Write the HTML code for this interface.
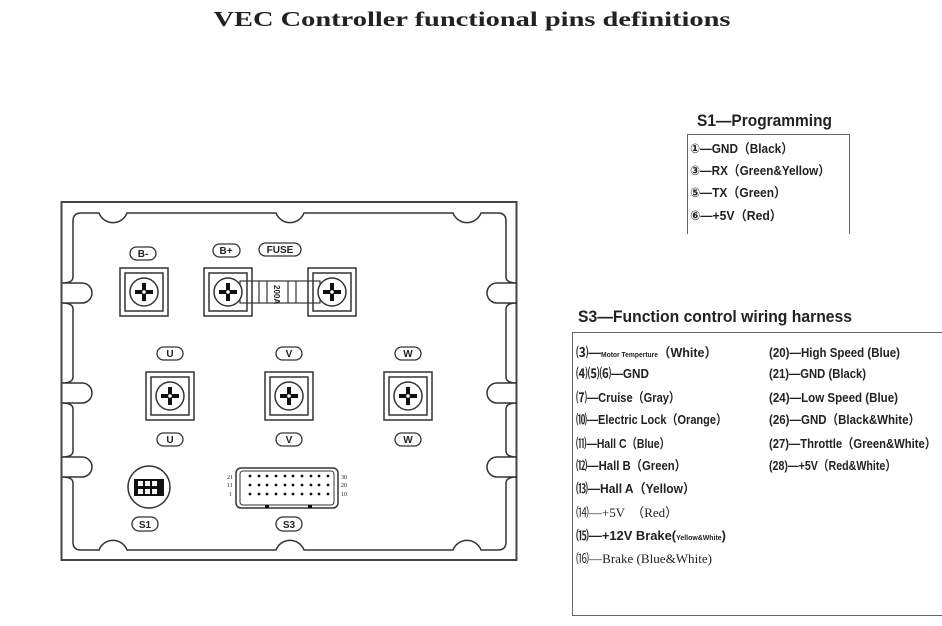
<!DOCTYPE html>
<html><head><meta charset="utf-8"><style>
html,body{margin:0;padding:0;background:#fff}
svg{display:block}
.b{font-family:"Liberation Sans","DejaVu Sans","Noto Sans CJK SC",sans-serif;font-weight:bold;fill:#222}
.s{font-family:"Liberation Serif","DejaVu Serif","Noto Sans CJK SC",serif;fill:#222}
.lb{font-family:"Liberation Sans",sans-serif;font-weight:bold;font-size:10px;fill:#222}
</style></head><body>
<svg width="942" height="626" viewBox="0 0 942 626" xmlns="http://www.w3.org/2000/svg">
<defs>
<g id="t">
<rect x="0" y="0" width="48" height="48" fill="none" stroke="#333" stroke-width="1.5"/>
<rect x="5" y="5" width="38" height="38" fill="none" stroke="#333" stroke-width="1.5"/>
<circle cx="24" cy="24" r="14" fill="#fff" stroke="#333" stroke-width="1.5"/>
<rect x="15" y="22" width="18" height="4" fill="#111"/>
<rect x="22" y="15" width="4" height="18" fill="#111"/>
<circle cx="24" cy="24" r="1.8" fill="#fff"/>
</g>
</defs>
<text x="472" y="26" text-anchor="middle" class="s" style="font-weight:bold;font-size:21px" textLength="517" lengthAdjust="spacingAndGlyphs">VEC Controller functional pins definitions</text>

<rect x="61.5" y="202" width="455" height="358" fill="none" stroke="#444" stroke-width="2"/>
<path fill="none" stroke="#333" stroke-width="1.5" d="M81,213 L99,213 A15 15 0 0 0 127,213 L276,213 A15 15 0 0 0 304,213 L453,213 A15 15 0 0 0 481,213 L498,213 Q506,213 506,221
L506,277 Q506,283 517,283 L497,283 A10 10 0 0 0 497,303 L517,303 Q506,303 506,309
L506,377 Q506,383 517,383 L497,383 A10 10 0 0 0 497,403 L517,403 Q506,403 506,409
L506,451 Q506,457 517,457 L497,457 A10 10 0 0 0 497,477 L517,477 Q506,477 506,483
L506,542 Q506,550 498,550 L481,550 A15 15 0 0 0 453,550 L304,550 A15 15 0 0 0 276,550 L127,550 A15 15 0 0 0 99,550 L81,550 Q73,550 73,542
L73,483 Q73,477 62,477 L82,477 A10 10 0 0 0 82,457 L62,457 Q73,457 73,451
L73,409 Q73,403 62,403 L82,403 A10 10 0 0 0 82,383 L62,383 Q73,383 73,377
L73,309 Q73,303 62,303 L82,303 A10 10 0 0 0 82,283 L62,283 Q73,283 73,277
L73,221 Q73,213 81,213 Z"/>

<g stroke="#333" stroke-width="1.2" fill="#fff">
<rect x="240" y="281" width="80" height="22"/>
<line x1="259" y1="281" x2="259" y2="303"/><line x1="267" y1="281" x2="267" y2="303"/>
<line x1="288" y1="281" x2="288" y2="303"/><line x1="296" y1="281" x2="296" y2="303"/>
</g>
<text transform="translate(274,285) rotate(90)" class="lb" style="font-size:8px">200A</text>
<use href="#t" x="120" y="268"/>
<use href="#t" x="204" y="268"/>
<use href="#t" x="308" y="268"/>
<use href="#t" x="146" y="372"/>
<use href="#t" x="265" y="372"/>
<use href="#t" x="384" y="372"/>

<g fill="#fff" stroke="#333" stroke-width="1.3">
<rect x="130" y="247" width="26" height="13" rx="6.5"/>
<rect x="213" y="244" width="27" height="13" rx="6.5"/>
<rect x="259" y="243" width="42" height="13" rx="6.5"/>
<rect x="157" y="347" width="26" height="13" rx="6.5"/>
<rect x="276" y="347" width="26" height="13" rx="6.5"/>
<rect x="395" y="347" width="26" height="13" rx="6.5"/>
<rect x="157" y="433" width="26" height="13" rx="6.5"/>
<rect x="276" y="433" width="26" height="13" rx="6.5"/>
<rect x="395" y="433" width="26" height="13" rx="6.5"/>
<rect x="132" y="517" width="26" height="14" rx="7"/>
<rect x="276" y="517" width="26" height="14" rx="7"/>
</g>
<g class="lb" text-anchor="middle">
<text x="143" y="257">B-</text><text x="226" y="254">B+</text><text x="280" y="253">FUSE</text>
<text x="170" y="357">U</text><text x="289" y="357">V</text><text x="408" y="357">W</text>
<text x="170" y="443">U</text><text x="289" y="443">V</text><text x="408" y="443">W</text>
<text x="145" y="528">S1</text><text x="289" y="528">S3</text>
</g>

<circle cx="149" cy="487" r="21" fill="none" stroke="#333" stroke-width="1.5"/>
<rect x="134" y="479" width="30" height="17" fill="#111"/>
<g fill="#fff"><rect x="138" y="481" width="5" height="5"/><rect x="145" y="481" width="5" height="5"/><rect x="152" y="481" width="5" height="5"/>
<rect x="138" y="489" width="5" height="5"/><rect x="145" y="489" width="5" height="5"/><rect x="152" y="489" width="5" height="5"/></g>

<rect x="236" y="468" width="102" height="40" rx="5" fill="none" stroke="#333" stroke-width="1.5"/>
<rect x="240" y="471" width="94" height="34" rx="3" fill="none" stroke="#333" stroke-width="1"/>
<g fill="#111">
<circle cx="250" cy="476" r="1.4"/><circle cx="259" cy="476" r="1.4"/><circle cx="267" cy="476" r="1.4"/><circle cx="276" cy="476" r="1.4"/><circle cx="285" cy="476" r="1.4"/><circle cx="293" cy="476" r="1.4"/><circle cx="302" cy="476" r="1.4"/><circle cx="311" cy="476" r="1.4"/><circle cx="319" cy="476" r="1.4"/><circle cx="328" cy="476" r="1.4"/>
<circle cx="250" cy="485" r="1.4"/><circle cx="259" cy="485" r="1.4"/><circle cx="267" cy="485" r="1.4"/><circle cx="276" cy="485" r="1.4"/><circle cx="285" cy="485" r="1.4"/><circle cx="293" cy="485" r="1.4"/><circle cx="302" cy="485" r="1.4"/><circle cx="311" cy="485" r="1.4"/><circle cx="319" cy="485" r="1.4"/><circle cx="328" cy="485" r="1.4"/>
<circle cx="250" cy="494" r="1.4"/><circle cx="259" cy="494" r="1.4"/><circle cx="267" cy="494" r="1.4"/><circle cx="276" cy="494" r="1.4"/><circle cx="285" cy="494" r="1.4"/><circle cx="293" cy="494" r="1.4"/><circle cx="302" cy="494" r="1.4"/><circle cx="311" cy="494" r="1.4"/><circle cx="319" cy="494" r="1.4"/><circle cx="328" cy="494" r="1.4"/>
<rect x="265" y="505" width="4" height="3"/><rect x="308" y="505" width="4" height="3"/>
</g>
<g class="s" style="font-size:6px">
<text x="227" y="479">21</text><text x="227" y="487">11</text><text x="229" y="496">1</text>
<text x="341" y="479">30</text><text x="341" y="487">20</text><text x="341" y="496">10</text>
</g>

<text x="697" y="126" class="b" style="font-size:17px" textLength="135" lengthAdjust="spacingAndGlyphs">S1—Programming</text>
<path d="M687.5,234 L687.5,134.5 L849.5,134.5 L849.5,234" fill="none" stroke="#666" stroke-width="1"/>
<g class="b" style="font-size:13px">
<text x="690" y="153" textLength="103" lengthAdjust="spacingAndGlyphs">①—GND（Black）</text>
<text x="690" y="175" textLength="140" lengthAdjust="spacingAndGlyphs">③—RX（Green&amp;Yellow）</text>
<text x="690" y="197" textLength="96" lengthAdjust="spacingAndGlyphs">⑤—TX（Green）</text>
<text x="690" y="220" textLength="92" lengthAdjust="spacingAndGlyphs">⑥—+5V（Red）</text>
</g>

<text x="578" y="322" class="b" style="font-size:17px" textLength="274" lengthAdjust="spacingAndGlyphs">S3—Function control wiring harness</text>
<rect x="572.5" y="332.5" width="380" height="283" fill="none" stroke="#666" stroke-width="1"/>
<g class="b" style="font-size:13px">
<text x="576" y="357" textLength="141" lengthAdjust="spacingAndGlyphs">⑶—<tspan style="font-size:7px">Motor Temperture</tspan>（White）</text>
<text x="576" y="378" textLength="73" lengthAdjust="spacingAndGlyphs">⑷⑸⑹—GND</text>
<text x="576" y="402" textLength="104" lengthAdjust="spacingAndGlyphs">⑺—Cruise（Gray）</text>
<text x="576" y="424" textLength="151" lengthAdjust="spacingAndGlyphs">⑽—Electric Lock（Orange）</text>
<text x="576" y="448" textLength="94" lengthAdjust="spacingAndGlyphs">⑾—Hall C（Blue）</text>
<text x="576" y="470" textLength="110" lengthAdjust="spacingAndGlyphs">⑿—Hall B（Green）</text>
<text x="576" y="493" textLength="119" lengthAdjust="spacingAndGlyphs">⒀—Hall A（Yellow）</text>
<text x="576" y="517" class="s" style="font-weight:normal" textLength="102" lengthAdjust="spacingAndGlyphs">⒁—+5V　（Red）</text>
<text x="576" y="540" textLength="150" lengthAdjust="spacingAndGlyphs">⒂—+12V Brake(<tspan style="font-size:7px">Yellow&amp;White</tspan>)</text>
<text x="576" y="563" class="s" style="font-weight:normal" textLength="136" lengthAdjust="spacingAndGlyphs">⒃—Brake (Blue&amp;White)</text>
<text x="769" y="357" textLength="131" lengthAdjust="spacingAndGlyphs">(20)—High Speed (Blue)</text>
<text x="769" y="378" textLength="97" lengthAdjust="spacingAndGlyphs">(21)—GND (Black)</text>
<text x="769" y="402" textLength="129" lengthAdjust="spacingAndGlyphs">(24)—Low Speed (Blue)</text>
<text x="769" y="424" textLength="151" lengthAdjust="spacingAndGlyphs">(26)—GND（Black&amp;White）</text>
<text x="769" y="448" textLength="167" lengthAdjust="spacingAndGlyphs">(27)—Throttle（Green&amp;White）</text>
<text x="769" y="470" textLength="127" lengthAdjust="spacingAndGlyphs">(28)—+5V（Red&amp;White）</text>
</g>
</svg>
</body></html>
